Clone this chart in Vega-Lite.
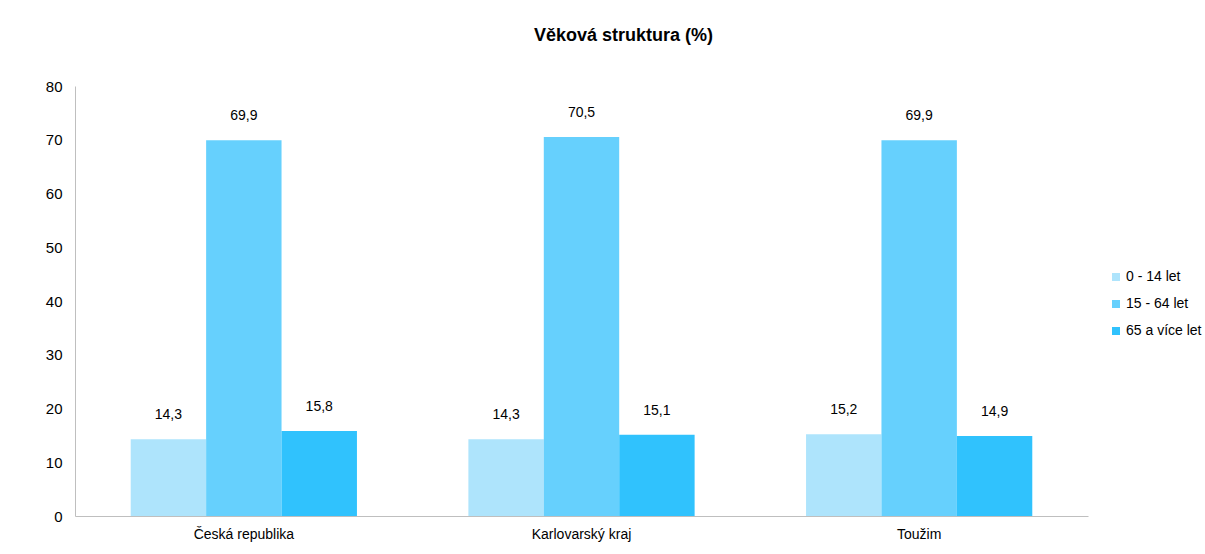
{
  "$schema": "https://vega.github.io/schema/vega-lite/v6.json",
  "width": 1013,
  "height": 430,
  "autosize": {"type": "none"},
  "padding": {"left": 75, "top": 86, "right": 117, "bottom": 38},
  "background": "white",
  "config": {
    "font": "Liberation Sans",
    "view": {"stroke": null},
    "locale": {"number": {"decimal": ",", "thousands": " ", "grouping": [3], "currency": ["", " Kč"]}}
  },
  "title": {
    "text": "Věková struktura (%)",
    "fontSize": 18,
    "fontWeight": "bold",
    "color": "#000000",
    "anchor": "middle",
    "dx": 42,
    "offset": 34
  },
  "data": {
    "values": [
      {"region": "Česká republika", "group": "0 - 14 let", "value": 14.3},
      {"region": "Česká republika", "group": "15 - 64 let", "value": 69.9},
      {"region": "Česká republika", "group": "65 a více let", "value": 15.8},
      {"region": "Karlovarský kraj", "group": "0 - 14 let", "value": 14.3},
      {"region": "Karlovarský kraj", "group": "15 - 64 let", "value": 70.5},
      {"region": "Karlovarský kraj", "group": "65 a více let", "value": 15.1},
      {"region": "Toužim", "group": "0 - 14 let", "value": 15.2},
      {"region": "Toužim", "group": "15 - 64 let", "value": 69.9},
      {"region": "Toužim", "group": "65 a více let", "value": 14.9}
    ]
  },
  "encoding": {
    "x": {
      "field": "region",
      "type": "nominal",
      "sort": null,
      "scale": {"paddingInner": 0.33, "paddingOuter": 0.165},
      "axis": {
        "title": null,
        "labelAngle": 0,
        "ticks": false,
        "domainColor": "#BFBFBF",
        "labelFontSize": 14,
        "labelColor": "#000000",
        "labelPadding": 11
      }
    },
    "xOffset": {"field": "group", "type": "nominal", "sort": null, "scale": {"paddingInner": 0, "paddingOuter": 0}},
    "y": {
      "field": "value",
      "type": "quantitative",
      "scale": {"domain": [0, 80]},
      "axis": {
        "title": null,
        "grid": false,
        "ticks": false,
        "tickCount": 8,
        "domainColor": "#BFBFBF",
        "labelFontSize": 15,
        "labelColor": "#000000",
        "labelPadding": 13
      }
    }
  },
  "layer": [
    {
      "mark": {"type": "bar"},
      "encoding": {
        "color": {
          "field": "group",
          "type": "nominal",
          "sort": null,
          "scale": {"range": ["#AEE4FC", "#66D0FD", "#30C2FD"]},
          "legend": {
            "title": null,
            "orient": "none",
            "legendX": 1034,
            "legendY": 184,
            "symbolType": "square",
            "symbolSize": 64,
            "symbolStrokeWidth": 0,
            "labelFontSize": 14,
            "labelColor": "#000000",
            "labelOffset": 3,
            "rowPadding": 13,
            "labelLimit": 200
          }
        }
      }
    },
    {
      "mark": {"type": "text", "baseline": "middle", "dy": -24, "fontSize": 14, "color": "#000000"},
      "encoding": {
        "text": {"field": "value", "type": "quantitative", "format": ".1f"}
      }
    }
  ]
}
